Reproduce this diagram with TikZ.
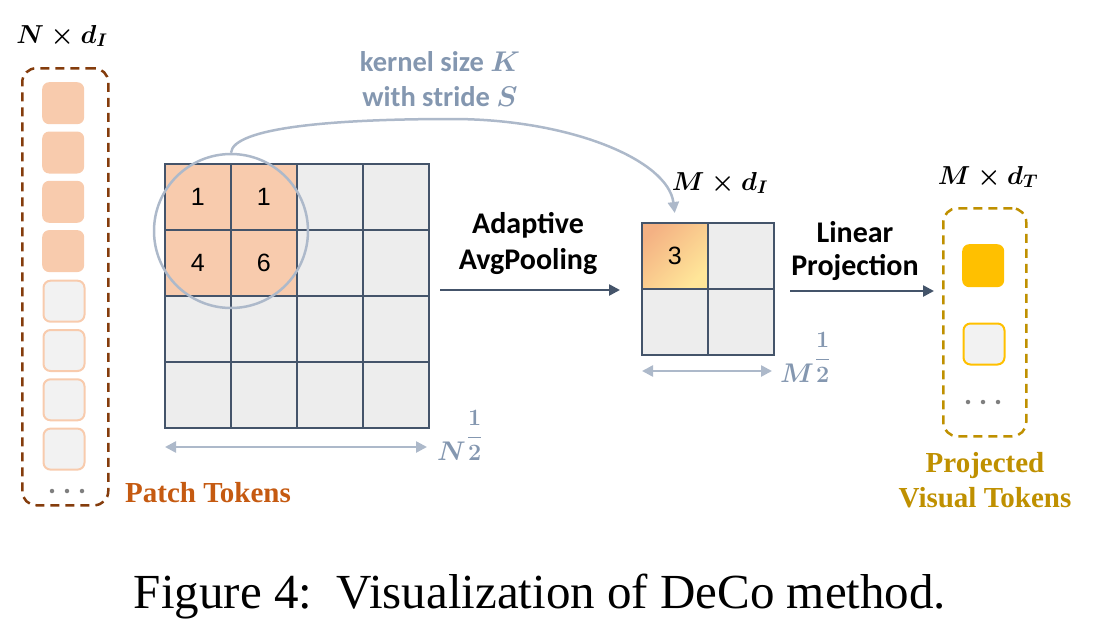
\RequirePackage{fix-cm}
\documentclass[tikz,border=0pt]{standalone}
\usepackage{fontspec}
\usepackage{amsmath}
\usepackage{graphicx}
\setsansfont{Carlito}
\newfontfamily\timesf{Liberation Serif}
\newfontfamily\arialf{Liberation Sans}
\usetikzlibrary{arrows.meta,shapes.misc}
\definecolor{peach}{HTML}{F8CBAD}
\definecolor{cellgray}{HTML}{EDEDED}
\definecolor{tokgray}{HTML}{F2F2F2}
\definecolor{slate}{HTML}{44546A}
\definecolor{bluegray}{HTML}{8497B0}
\definecolor{lightblue}{HTML}{ADB9CA}
\definecolor{brownd}{HTML}{843C0C}
\definecolor{goldd}{HTML}{BF9000}
\definecolor{yellowt}{HTML}{FFC000}
\definecolor{orangetxt}{HTML}{C55A11}
\definecolor{gradA}{HTML}{F4B183}
\definecolor{gradB}{HTML}{FFE699}
\definecolor{dotgray}{HTML}{7F7F7F}
\newcommand{\mlab}[1]{{\fontsize{26}{30}\selectfont\boldmath$#1$}}
\newcommand{\halfpow}[1]{{\fontsize{27}{30}\selectfont\boldmath$#1$}\kern0.5pt\raisebox{17pt}{\scalebox{1.3}{\fontsize{18}{20}\selectfont\boldmath$\dfrac{\mathbf{1}}{\mathbf{2}}$}}}
\tikzset{
  cell/.style={draw=slate, line width=1.5pt, minimum size=66pt, inner sep=0pt, anchor=north west, fill=cellgray},
  pcell/.style={cell, fill=peach},
  num/.style={font=\arialf\fontsize{25}{28}\selectfont, inner sep=0pt},
  tokfull/.style={fill=peach, rounded corners=7pt, minimum width=42pt, minimum height=42pt, inner sep=0pt, anchor=north west},
  tokempty/.style={fill=tokgray, draw=peach, line width=2pt, rounded corners=7pt, minimum width=41pt, minimum height=41pt, inner sep=0pt, anchor=north west},
  dashbox/.style={dash pattern=on 9pt off 6pt, line width=2.5pt, rounded corners=14pt},
  dotc/.style={circle, fill=dotgray, inner sep=0pt, minimum size=4.5pt},
  lbl/.style={font=\sffamily\bfseries\fontsize{30}{33}\selectfont, inner sep=0pt},
  klbl/.style={font=\sffamily\bfseries\fontsize{28.5}{32}\selectfont, inner sep=0pt, text=bluegray},
  flow/.style={draw=slate, line width=2.5pt, -{Triangle[length=11pt,width=11pt]}},
  dim/.style={draw=lightblue, line width=2.5pt, {Triangle[length=11pt,width=11pt]}-{Triangle[length=11pt,width=11pt]}},
  serifl/.style={font=\timesf\bfseries\fontsize{29}{33}\selectfont, inner sep=0pt},
}
\begin{document}
\begin{tikzpicture}[x=1pt,y=-1pt]
\useasboundingbox (0,0) rectangle (1095,629);
% left patch tokens
\node[draw=brownd, dashbox, minimum width=86pt, minimum height=437pt, anchor=north west] (lbox) at (21,67) {};
\foreach \i in {0,1,2,3} {
  \node[tokfull] (pt\i) at (42,{82+49.3*\i}) {};
}
\foreach \i in {4,5,6,7} {
  \node[tokempty] (pt\i) at (42.5,{82.5+49.3*\i}) {};
}
\node[dotc] (ld1) at (52,491) {};
\node[dotc] (ld2) at (67,491) {};
\node[dotc] (ld3) at (82,491) {};
\node[inner sep=0pt] (ndi) at (62,36) {\mlab{N\times d_I}};
\node[serifl, text=orangetxt] (ptl) at (208,493) {Patch Tokens};
% big grid
\foreach \r in {0,1,2,3} {
  \foreach \c in {0,1,2,3} {
    \pgfmathtruncatemacro{\pk}{(\r<2)&&(\c<2)}
    \ifnum\pk=1
      \node[pcell] (g\r\c) at ({164+66*\c},{163+66*\r}) {};
    \else
      \node[cell] (g\r\c) at ({164+66*\c},{163+66*\r}) {};
    \fi
  }
}
\node[num] (n1) at (g00.center) {1};
\node[num] (n2) at (g01.center) {1};
\node[num] (n3) at (g10.center) {4};
\node[num] (n4) at (g11.center) {6};
\node[circle, draw=lightblue, line width=2.5pt, minimum size=154pt, inner sep=0pt] (kern) at (231,231) {};
% kernel text
\node[klbl] (kt1) at (440,62) {kernel size {\boldmath$K$}};
\node[klbl] (kt2) at (440,97) {with stride {\boldmath$S$}};
% small grid
\node[cell, fill=none] (s00) at (641,222) {};
\shade[top color=gradA, bottom color=gradB, shading angle=45] (641,222) rectangle (707,288);
\node[cell, fill=none] (s00b) at (641,222) {};
\node[cell] (s01) at (707,222) {};
\node[cell] (s10) at (641,288) {};
\node[cell] (s11) at (707,288) {};
\node[num] (n5) at (s00.center) {3};
\node[inner sep=0pt] (mdi) at (720,183) {\mlab{M\times d_I}};
\draw[draw=lightblue, line width=2.5pt, -{Triangle[length=11pt,width=11pt]}]
  (kern.north) .. controls (233,128) and (330,119) .. (452,119)
  .. controls (570,119) and (668,160) .. (s00.north |- 0,213);
% pooling arrow
\coordinate (pa1) at (440,290);
\coordinate (pa2) at (620,290);
\draw[flow] (pa1) -- (pa2);
\node[lbl] (ap1) at (528,225) {Adaptive};
\node[lbl] (ap2) at (528,262) {AvgPooling};
% linear projection
\coordinate (la1) at (790,291);
\coordinate (la2) at (934,291);
\draw[flow] (la1) -- (la2);
\node[lbl] (lp1) at (855,232) {Linear};
\node[lbl] (lp2) at (855,267) {Projection};
% dims
\coordinate (ma1) at (642,371);
\coordinate (ma2) at (772,371);
\draw[dim] (ma1) -- (ma2);
\node[inner sep=0pt, text=bluegray, anchor=base west] (mh) at (780,382) {\halfpow{M}};
\coordinate (na1) at (165,447);
\coordinate (na2) at (427,447);
\draw[dim] (na1) -- (na2);
\node[inner sep=0pt, text=bluegray, anchor=base west] (nh) at (437,460) {\halfpow{N}};
% right projected tokens
\node[draw=goldd, dashbox, minimum width=83pt, minimum height=228pt, anchor=north west] (rbox) at (942,207) {};
\node[fill=yellowt, rounded corners=7pt, minimum width=42pt, minimum height=43pt, inner sep=0pt, anchor=north west] (vt1) at (962,244) {};
\node[fill=tokgray, draw=yellowt, line width=2pt, rounded corners=7pt, minimum width=41pt, minimum height=41pt, inner sep=0pt, anchor=north west] (vt2) at (962.5,322.5) {};
\node[dotc] (rd1) at (968,402) {};
\node[dotc] (rd2) at (983,402) {};
\node[dotc] (rd3) at (998,402) {};
\node[inner sep=0pt] (mdt) at (988,177) {\mlab{M\times d_T}};
\node[serifl, text=goldd, align=center, font=\timesf\bfseries\fontsize{29}{35}\selectfont] (pvt) at (985,480) {Projected\\Visual Tokens};
% caption
\node[inner sep=0pt, font=\timesf\fontsize{49}{52}\selectfont] (cap) at (540,597) {Figure 4:\ \ Visualization of DeCo method.};
\end{tikzpicture}
\end{document}
